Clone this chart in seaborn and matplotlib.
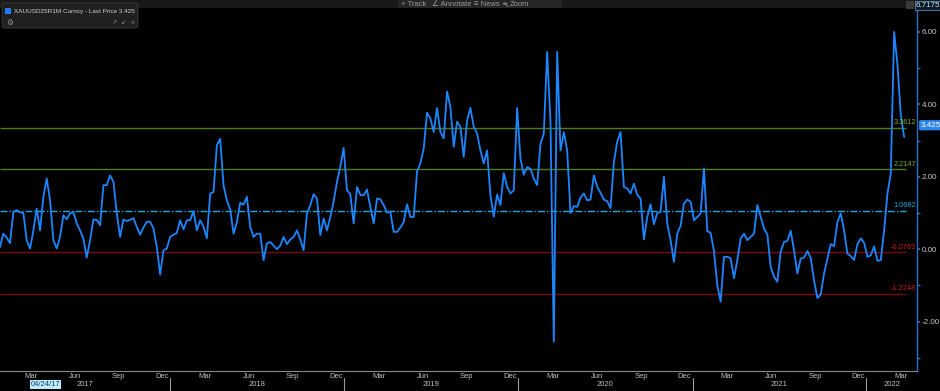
import numpy as np
import pandas as pd
import matplotlib
matplotlib.use("Agg")
import matplotlib.pyplot as plt
import matplotlib.dates as mdates
import matplotlib.transforms as mtransforms
from matplotlib.patches import Rectangle, FancyBboxPatch, Circle
from matplotlib.lines import Line2D
import seaborn as sns

# ---------------- data (weekly readings) ----------------
vals_2017 = [0.06, 0.43, 0.32, 0.17, 1.03, 1.08, 1.02, 1.00, 0.25, 0.02,
             0.51, 1.12, 0.52, 1.45, 1.95, 1.35, 0.25, 0.02, 0.34, 0.94,
             0.83, 0.99, 1.03, 0.71, 0.52, 0.29, -0.23, 0.25, 0.82, 0.81,
             0.66, 1.77, 1.77, 2.04, 1.86, 0.99, 0.34, 0.82, 0.78, 0.81,
             0.86, 0.62, 0.40, 0.60, 0.76, 0.76, 0.57, 0.06, -0.70, -0.03,
             0.02, 0.34]
vals_2018 = [0.40, 0.45, 0.80, 0.55, 0.80, 0.80, 1.05, 0.52, 0.80, 0.62,
             0.30, 1.54, 1.58, 2.87, 3.05, 1.76, 1.35, 1.10, 0.43, 0.75,
             1.28, 1.23, 1.45, 0.62, 0.34, 0.43, 0.43, -0.30, 0.16, 0.20,
             0.10, 0.00, 0.10, 0.34, 0.14, 0.27, 0.34, 0.52, 0.27, -0.03,
             0.99, 1.21, 1.52, 1.40, 0.39, 0.85, 0.52, 0.89, 1.32, 1.86,
             2.27, 2.80]
vals_2019 = [1.63, 1.52, 0.71, 1.72, 1.50, 1.49, 1.65, 1.17, 0.71, 1.40,
             1.38, 1.22, 1.01, 1.04, 0.48, 0.48, 0.60, 0.75, 1.24, 0.89,
             0.89, 2.15, 2.37, 2.78, 3.77, 3.61, 3.24, 3.90, 3.24, 3.06,
             4.36, 3.93, 2.83, 3.52, 3.38, 2.55, 3.56, 3.90, 3.38, 3.20,
             2.73, 2.37, 2.73, 1.49, 0.90, 1.51, 1.22, 2.10, 1.72, 1.54,
             1.63, 3.90]
vals_2020 = [2.50, 2.06, 2.27, 2.22, 1.95, 1.77, 2.90, 3.20, 5.45, 3.50,
             -2.55, 5.45, 2.73, 3.23, 2.73, 1.00, 1.19, 1.17, 1.43, 1.54,
             1.35, 1.37, 2.04, 1.72, 1.56, 1.37, 1.33, 1.13, 2.40, 2.97,
             3.24, 1.72, 1.68, 1.54, 1.81, 1.50, 1.40, 0.27, 0.89, 1.24,
             0.69, 1.00, 1.03, 2.00, 0.71, 0.25, -0.35, 0.43, 0.65, 1.26,
             1.37, 1.31]
vals_2021 = [0.80, 0.89, 0.99, 2.23, 0.50, 0.45, -0.05, -1.00, -1.45, -0.21,
             -0.21, -0.25, -0.80, -0.30, 0.30, 0.43, 0.25, 0.34, 0.43, 1.22,
             0.89, 0.57, 0.41, -0.49, -0.76, -0.90, -0.07, 0.20, 0.23, 0.51,
             -0.03, -0.67, -0.26, -0.23, -0.05, -0.24, -0.86, -1.35, -1.25, -0.67,
             -0.26, 0.14, 0.08, 0.75, 0.99, 0.52, -0.12, -0.19, -0.30, 0.14,
             0.30, 0.18]
vals_2022 = [-0.21, -0.17, 0.08, -0.32, -0.30, 0.52, 1.54, 2.09, 6.00, 5.10,
             3.70, 3.10]

start_date = "2017-01-09"
x_end_date = "2022-04-17"
level_end_date = "2022-03-24"

levels = [3.3612, 2.2147, 1.0682, -0.0783, -1.2248]
level_labels = ["3.3612", "2.2147", "1.0682", "-0.0783", "-1.2248"]
level_colors = ["#4e7d1a", "#4e7d1a", "#1ea8dc", "#7a0a0a", "#7a0a0a"]
level_text_colors = ["#7fae1f", "#7fae1f", "#1ea8dc", "#c81818", "#c81818"]
level_styles = ["-", "-", (0, (5, 1.5, 1, 1.5)), "-", "-"]

y_major = [-2, 0, 2, 4, 6]
y_minor = [-3, -1, 1, 3, 5]
y_top = 6.7175
y_bottom = -3.363

legend_text = "XAUUSD25R1M Curncy - Last Price 3.425"
last_price = 3.425
top_value_label = "6.7175"
marker_label = "04/24/17"
marker_label_date = "2017-04-15"
menu_items = ["+ Track", "\u2220 Annotate", "\u2261 News", "Zoom"]

# ---------------- frame ----------------
values = vals_2017 + vals_2018 + vals_2019 + vals_2020 + vals_2021 + vals_2022
dates = pd.date_range(start_date, periods=len(values), freq="7D")
df = pd.DataFrame({"date": dates, "value": values})

sns.set_theme(style="dark")
plt.rcParams["font.family"] = ["Liberation Sans", "DejaVu Sans"]

W, H = 940, 391
fig = plt.figure(figsize=(W / 100, H / 100), dpi=100, facecolor="black")
ax = fig.add_axes([0, 20 / H, 917 / W, 365 / H])
ax.set_facecolor("black")

LINE_BLUE = "#1c86ff"
sns.lineplot(data=df, x="date", y="value", ax=ax, color=LINE_BLUE, lw=1.3, zorder=3)

x0 = pd.Timestamp(start_date)
x1 = pd.Timestamp(x_end_date)
ax.set_xlim(x0, x1)
ax.set_ylim(y_bottom, y_top)
ax.set_xlabel("")
ax.set_ylabel("")
ax.grid(False)

# level lines
lev_end = pd.Timestamp(level_end_date)
blend_y = mtransforms.blended_transform_factory(ax.transAxes, ax.transData)
for lev, col, ls, lab, tcol in zip(levels, level_colors, level_styles, level_labels, level_text_colors):
    ax.hlines(lev, x0, lev_end, color=col, lw=1.0, linestyles=[ls], zorder=1)
    ax.text(0.999, lev + 0.03, lab, transform=blend_y,
            ha="right", va="bottom", color=tcol, fontsize=5.3, zorder=5)

# spines
for s in ["top", "left"]:
    ax.spines[s].set_visible(False)
ax.spines["right"].set_color("#2a6fc9")
ax.spines["right"].set_linewidth(1.0)
ax.spines["bottom"].set_color("#8a8a8a")
ax.spines["bottom"].set_linewidth(0.8)

# y axis on the right
ax.yaxis.tick_right()
ax.set_yticks(y_major)
ax.set_yticklabels([f"{v:.2f}" for v in y_major])
ax.set_yticks(y_minor, minor=True)
ax.tick_params(axis="y", which="major", colors="#2a6fc9", labelcolor="#c8c8c8", length=2.5,
               width=1.2, labelsize=5.8, pad=1, direction="out", left=False, right=True)
ax.tick_params(axis="y", which="minor", colors="#2a6fc9", length=2.0, width=1.0,
               left=False, right=True, direction="out")

# x axis
ax.xaxis.set_major_locator(mdates.MonthLocator(bymonth=[3, 6, 9, 12], bymonthday=15))
ax.xaxis.set_major_formatter(mdates.DateFormatter("%b"))
ax.xaxis.set_minor_locator(mdates.MonthLocator())
ax.tick_params(axis="x", which="major", length=0, labelsize=5.5, labelcolor="#c0c0c0", pad=1.5)
ax.tick_params(axis="x", which="minor", length=2, width=0.8, color="#c8c8c8", direction="in")

trans_x = mtransforms.blended_transform_factory(ax.transData, ax.transAxes)
for yr in range(x0.year, x1.year + 1):
    a = max(pd.Timestamp(f"{yr}-01-01"), x0)
    b = min(pd.Timestamp(f"{yr + 1}-01-01"), x1)
    mid = a + (b - a) / 2
    ax.text(mid, -0.036, str(yr), transform=trans_x, ha="center", va="center",
            fontsize=5.5, color="#c0c0c0", clip_on=False)
    if yr > x0.year:
        ax.plot([pd.Timestamp(f"{yr}-01-01")] * 2, [-0.02, -0.06], transform=trans_x,
                color="#9a9a9a", lw=0.8, clip_on=False)

ax.text(pd.Timestamp(marker_label_date), -0.036, marker_label, transform=trans_x, ha="center",
        va="center", fontsize=5.5, color="#0b3d6b", clip_on=False,
        bbox=dict(boxstyle="square,pad=0.12", fc="#bdeeff", ec="none"))

# last price tag
ax.text(1.004, last_price, f"{last_price:.3f}", transform=blend_y,
        ha="left", va="center", fontsize=5.8, color="white", clip_on=False,
        bbox=dict(boxstyle="round,pad=0.2", fc="#2d86f0", ec="none"))

# top bar
fig.patches.append(Rectangle((0, 1 - 8 / H), 1, 8 / H, transform=fig.transFigure,
                             fc="#191919", ec="none", zorder=0))
fig.patches.append(Rectangle((398 / W, 1 - 8 / H), 164 / W, 8 / H, transform=fig.transFigure,
                             fc="#262626", ec="none", zorder=0))
menu_x = [401, 432, 474, 510]
for mx, item in zip(menu_x, menu_items):
    fig.text(mx / W, 1 - 4 / H, item, ha="left", va="center", fontsize=5.5, color="#9a9a9a")
# magnifier icon (symbol missing in installed fonts) drawn as a small shape
fig.patches.append(Circle((505 / W, 1 - 3.6 / H), 1.6 / W, transform=fig.transFigure,
                          fc="none", ec="#9a9a9a", lw=0.6))
fig.lines.append(Line2D([506.2 / W, 508 / W], [1 - 4.8 / H, 1 - 6.4 / H], transform=fig.transFigure,
                        color="#9a9a9a", lw=0.6))

# top-right max value box
fig.patches.append(Rectangle((906 / W, 1 - 9 / H), 8 / W, 8 / H, transform=fig.transFigure,
                             fc="#3a3a3a", ec="none"))
fig.text(928 / W, 1 - 5.5 / H, top_value_label, ha="center", va="center", fontsize=5.8,
         color="#bfe6ff", bbox=dict(boxstyle="square,pad=0.15", fc="#0d1a26", ec="#5a86b0", lw=0.6))

# legend box
fig.patches.append(FancyBboxPatch((2 / W, 1 - 28 / H), 136 / W, 25 / H,
                                  boxstyle="round,pad=0,rounding_size=0.004",
                                  transform=fig.transFigure, fc="#202020", ec="#3c3c3c", lw=0.6))
fig.patches.append(Rectangle((5 / W, 1 - 14 / H), 6 / W, 6 / H, transform=fig.transFigure,
                             fc="#1f7fff", ec="none"))
fig.text(14 / W, 1 - 11 / H, legend_text, ha="left", va="center", fontsize=4.6, color="#d0d0d0")
fig.text(6 / W, 1 - 22.5 / H, "\u2699", ha="left", va="center", fontsize=5.5, color="#9a9a9a",
         family=["DejaVu Sans"])
fig.text(112 / W, 1 - 22.5 / H, "\u2197  \u2199  \u00d7", ha="left", va="center", fontsize=4.5,
         color="#8a8a8a", family=["DejaVu Sans"])

fig.savefig("out.png", dpi=100, facecolor="black")
